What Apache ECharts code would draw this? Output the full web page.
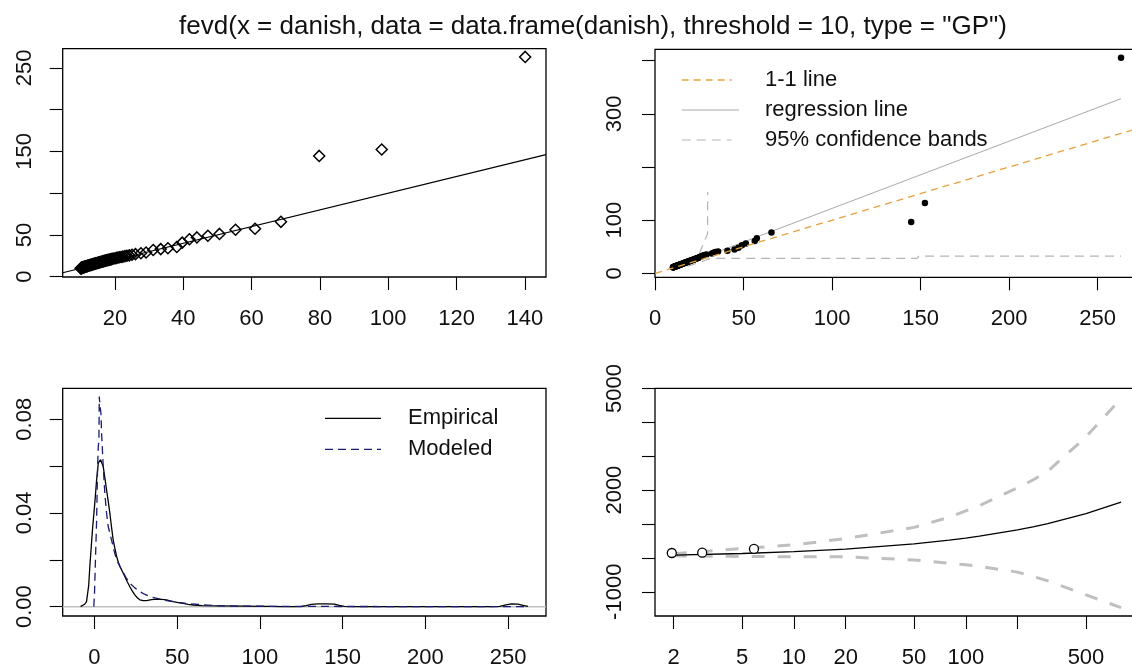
<!DOCTYPE html>
<html>
<head>
<meta charset="utf-8">
<title>fevd danish GP diagnostics</title>
<script src="https://cdn.jsdelivr.net/npm/echarts@6/dist/echarts.min.js"></script>
<style>
  html, body { margin: 0; padding: 0; background: #fff; }
  #main { width: 1132px; height: 670px; }
</style>
</head>
<body>
<div id="main"></div>
<script>
var titleText = 'fevd(x = danish, data = data.frame(danish), threshold = 10, type = "GP")';

// sorted exceedances of danish over 10 (largest first)
var empQ = [263.25, 152.41, 144.66, 65.71, 57.41, 56.23, 51.2, 49.0, 47.0, 44.8, 40.8, 35.5, 34.0, 33.0, 32.0, 29.0, 28.0,
  27.0, 26.2, 25.5, 25.0, 24.6, 24.0, 23.6, 23.2, 22.9, 22.5, 22.1, 21.8, 21.4, 21.0, 20.7, 20.4, 20.1, 19.8, 19.5, 19.2,
  18.9, 18.6, 18.3, 18.0, 17.8, 17.5, 17.3, 17.0, 16.8, 16.6, 16.3, 16.1, 15.9, 15.7, 15.5, 15.3, 15.1, 14.9, 14.7, 14.5,
  14.3, 14.1, 13.9, 13.8, 13.6, 13.4, 13.3, 13.1, 12.9, 12.8, 12.6, 12.5, 12.3, 12.2, 12.0, 11.9, 11.8, 11.6, 11.5, 11.4,
  11.3, 11.1, 11.0, 10.9, 10.8, 10.7, 10.6, 10.5, 10.4, 10.3, 10.2, 10.1, 10.0];
// model quantiles (top left qq plot, x)
var modelQ = [140.1, 98.1, 79.8, 68.6, 61.0, 55.3, 50.6, 47.2, 44.0, 41.8, 39.7, 38.1, 35.5, 33.4, 31.2, 29.1, 27.6,
  26.0, 25.0, 24.2, 23.5, 22.9, 22.3, 21.8, 21.3, 20.9, 20.5, 20.1, 19.7, 19.3, 19.0, 18.7, 18.4, 18.1, 17.8, 17.5, 17.2,
  17.0, 16.7, 16.5, 16.2, 16.0, 15.8, 15.6, 15.4, 15.2, 15.0, 14.8, 14.6, 14.4, 14.2, 14.1, 13.9, 13.7, 13.6, 13.4, 13.3,
  13.1, 13.0, 12.8, 12.7, 12.5, 12.4, 12.3, 12.1, 12.0, 11.9, 11.8, 11.6, 11.5, 11.4, 11.3, 11.2, 11.1, 11.0, 10.9, 10.8,
  10.7, 10.6, 10.55, 10.5, 10.4, 10.35, 10.3, 10.25, 10.2, 10.15, 10.1, 10.05, 10.0];
// quantiles of data simulated from the fit (top right, y)
var simQ = [405.5, 132.5, 96.5, 77.0, 66.0, 61.0, 56.0, 53.0, 48.0, 45.0, 42.5, 41.0, 40.0, 38.5, 37.5, 35.5, 34.5,
  33.5, 32.0, 31.0, 30.2, 29.6, 29.0, 28.4, 27.9, 27.4, 26.9, 26.4, 26.0, 25.5, 25.1, 24.7, 24.3, 23.9, 23.5, 23.1, 22.8,
  22.4, 22.1, 21.8, 21.4, 21.1, 20.8, 20.5, 20.2, 19.9, 19.6, 19.3, 19.0, 18.8, 18.5, 18.2, 18.0, 17.7, 17.5, 17.2, 17.0,
  16.7, 16.5, 16.2, 16.0, 15.8, 15.6, 15.4, 15.2, 15.0, 14.8, 14.6, 14.4, 14.2, 14.0, 13.8, 13.7, 13.5, 13.3, 13.2, 13.0,
  12.9, 12.7, 12.6, 12.4, 12.3, 12.2, 12.0, 11.9, 11.8, 11.6, 11.5, 11.4, 11.2];

var regX = [10, 263.25], regY = [8.4, 328.5];
var bandUpX = [10, 20, 24.5, 29.6, 29.6], bandUpY = [13, 25, 34, 75, 153];
var bandLoX = [10, 20, 28, 31, 148, 149, 263.25], bandLoY = [7, 15, 24, 28, 28, 32.5, 32.5];

// density of excesses (bottom left)
var empDensX = [-8.4, -7.8, -6, -4.8, -3.5, -2.8, -1.2, 0.2, 1.3, 2.3, 3.7, 5.3, 6.3, 7.3, 8.3, 9.3, 10.3, 11.3, 12.3, 13.4,
  14.4, 15.4, 16.9, 18.4, 19.9, 21.4, 22.9, 24.4, 25.9, 27.4, 29.5, 31.5, 34.5, 37.5, 40.5, 43.6, 45.6, 47.6, 50.6, 53.6,
  56.6, 59.7, 65, 75, 90, 105, 115, 125, 128, 131, 135, 140, 145, 148, 151, 160, 200, 240, 245, 248, 252, 256, 259, 262];
var empDensY = [0, 0.0002, 0.001, 0.0021, 0.009, 0.0171, 0.0328, 0.0442, 0.0541, 0.0613, 0.0627, 0.0598, 0.055, 0.0499,
  0.045, 0.0399, 0.034, 0.0285, 0.025, 0.0214, 0.019, 0.0171, 0.015, 0.0128, 0.0105, 0.0085, 0.0066, 0.005, 0.0038, 0.0029,
  0.0026, 0.0026, 0.0030, 0.0032, 0.0031, 0.0029, 0.0025, 0.0021, 0.0017, 0.0014, 0.001, 0.0007, 0.0004, 0.0003, 0.0002,
  0.0001, 0.00003, 0.00005, 0.0004, 0.0010, 0.0012, 0.0012, 0.0011, 0.0005, 0.0001, 0, 0, 0, 0.0001, 0.0006, 0.0012,
  0.0011, 0.0005, 0.0001];
var modDensX = [-0.4, 0, 0.6, 1.3, 1.9, 2.3, 2.7, 2.9, 3.3, 3.9, 4.3, 5.3, 6.3, 7.3, 8.3, 10.3, 11.8, 13.4, 16.4, 19,
  21.4, 24.4, 27.4, 30.5, 33.5, 38.5, 43.6, 50.6, 57.7, 65, 73.8, 90, 120, 160, 200, 262];
var modDensY = [0, 0.005, 0.02, 0.037, 0.06, 0.068, 0.0713, 0.0897, 0.086, 0.0826, 0.0741, 0.0598, 0.048, 0.04, 0.0342,
  0.0285, 0.024, 0.02, 0.0157, 0.0125, 0.01, 0.008, 0.0064, 0.0052, 0.0043, 0.0034, 0.0026, 0.0018, 0.0012, 0.0008,
  0.0004, 0.0002, 0.0001, 0.00005, 0.00003, 0.00002];

// return levels (bottom right)
var rPeriods = [2, 5, 10, 20, 50, 80, 100, 120, 200, 250, 300, 500, 800];
var rLevels = [80, 129, 183, 260, 412, 522, 584, 640, 825, 923, 1011, 1304, 1648];
var rUpper = [120, 275, 385, 570, 900, 1200, 1390, 1540, 2070, 2320, 2560, 3570, 4700];
var rLower = [60, 40, 35, 30, -60, -160, -200, -250, -420, -560, -680, -1090, -1470];
var rEmpT = [1.95, 2.93, 5.86], rEmpY = [144.66, 152.41, 263.25];

// ticks and labels
var qqXTicks = [20, 40, 60, 80, 100, 120, 140], qqYTicks = [0, 50, 100, 150, 200, 250], qqYLabels = [0, 50, 150, 250];
var qq2XTicks = [0, 50, 100, 150, 200, 250], qq2YTicks = [0, 100, 200, 300, 400], qq2YLabels = [0, 100, 300];
var densXTicks = [0, 50, 100, 150, 200, 250], densYTicks = [0, 0.02, 0.04, 0.06, 0.08], densYLabels = [0, 0.04, 0.08];
var rlXTicks = [2, 5, 10, 20, 50, 100, 200, 500], rlXLabels = [2, 5, 10, 20, 50, 100, 500];
var rlYTicks = [-1000, 0, 1000, 2000, 3000, 4000, 5000], rlYLabels = [-1000, 2000, 5000];

var FONT = '"Liberation Sans", Arial, Helvetica, sans-serif';

function pairs(xs, ys) {
    return xs.map(function(x, i) { return [x, ys[i]]; });
}

function plain(v) { return String(v); }

function axis(dim, idx, type, min, max, ticks, labels, margin, fmt) {
    return {
        gridIndex: idx,
        type: type,
        min: min,
        max: max,
        axisLine: { show: false, onZero: false },
        splitLine: { show: false },
        axisTick: { show: true, length: 13, customValues: ticks, lineStyle: { color: '#000', width: 1.1 } },
        axisLabel: {
            customValues: labels,
            margin: margin,
            rotate: dim == 'y' ? 90 : 0,
            color: '#111',
            fontSize: 22,
            fontFamily: FONT,
            formatter: fmt || plain
        }
    };
}

function line(ax, data, color, width, dash, z) {
    return {
        type: 'line', xAxisIndex: ax, yAxisIndex: ax, data: data,
        symbol: 'none', silent: true, z: z || 2,
        lineStyle: { color: color, width: width, type: dash || 'solid' }
    };
}

function legendRow(x1, x2, tx, y, color, width, dash, text) {
    return [{
        type: 'line', shape: { x1: x1, y1: y, x2: x2, y2: y },
        style: { stroke: color, lineWidth: width, lineDash: dash || null }
    }, {
        type: 'text', x: tx, y: y,
        style: { text: text, fill: '#111', fontSize: 22, fontFamily: FONT, verticalAlign: 'middle' }
    }];
}

var gridBox = { show: true, borderColor: '#000', borderWidth: 1.3, backgroundColor: 'transparent', outerBoundsMode: 'none' };

var option = {
    animation: false,
    backgroundColor: '#fff',
    title: {
        text: titleText, left: 593, top: 14, padding: 0, textAlign: 'center',
        textStyle: { fontSize: 26, fontWeight: 'normal', color: '#111', fontFamily: FONT }
    },
    grid: [
        Object.assign({ left: 62.7, top: 48.7, width: 483.3, height: 228.3 }, gridBox),
        Object.assign({ left: 655, top: 49.3, width: 484, height: 228 }, gridBox),
        Object.assign({ left: 62.7, top: 388.3, width: 483.3, height: 227.7 }, gridBox),
        Object.assign({ left: 655, top: 388.3, width: 484, height: 227.7 }, gridBox)
    ],
    xAxis: [
        axis('x', 0, 'value', 4.7, 146.2, qqXTicks, qqXTicks, 31),
        axis('x', 1, 'value', -0.13, 273.4, qq2XTicks, qq2XTicks, 31),
        axis('x', 2, 'value', -19.2, 272.9, densXTicks, densXTicks, 31),
        axis('x', 3, 'log', 1.557, 1017, rlXTicks, rlXLabels, 31, function(v) { return String(Math.round(v)); })
    ],
    yAxis: [
        axis('y', 0, 'value', -0.4, 273.1, qqYTicks, qqYLabels, 27),
        axis('y', 1, 'value', -7.5, 421.4, qq2YTicks, qq2YLabels, 29),
        axis('y', 2, 'value', -0.004, 0.0932, densYTicks, densYLabels, 27, function(v) { return v.toFixed(2); }),
        axis('y', 3, 'value', -1715, 5005, rlYTicks, rlYLabels, 29)
    ],
    series: [
        // qq plot
        line(0, [[4.7, 4.7], [146.2, 146.2]], '#000', 1.2),
        {
            type: 'scatter', xAxisIndex: 0, yAxisIndex: 0, data: pairs(modelQ, empQ),
            symbol: 'diamond', symbolSize: 11, silent: true, z: 3,
            itemStyle: { color: 'rgba(0,0,0,0)', borderColor: '#000', borderWidth: 1.5, opacity: 1 }
        },
        // qq plot with simulated data
        {
            type: 'scatter', xAxisIndex: 1, yAxisIndex: 1, data: pairs(empQ, simQ),
            symbol: 'circle', symbolSize: 6.5, silent: true, z: 2,
            itemStyle: { color: '#000', opacity: 1 }
        },
        line(1, [[0, 0], [300, 300]], '#e5a23a', 1.3, [7, 5], 3),
        line(1, pairs(regX, regY), '#a9a9a9', 1),
        line(1, pairs(bandUpX, bandUpY), '#b5b5b5', 1.2, [9, 6]),
        line(1, pairs(bandLoX, bandLoY), '#b5b5b5', 1.2, [9, 6]),
        // density
        line(2, [[-19.2, 0], [272.9, 0]], '#bebebe', 1.5, null, 1),
        line(2, pairs(empDensX, empDensY), '#000', 1.3),
        line(2, pairs(modDensX, modDensY), '#1b1b72', 1.3, [8, 5], 3),
        // return levels
        line(3, pairs(rPeriods, rUpper), '#bfbfbf', 3, [13, 13]),
        line(3, pairs(rPeriods, rLower), '#bfbfbf', 3, [13, 13]),
        line(3, pairs(rPeriods, rLevels), '#000', 1.3, null, 3),
        {
            type: 'scatter', xAxisIndex: 3, yAxisIndex: 3, data: pairs(rEmpT, rEmpY),
            symbol: 'circle', symbolSize: 9, silent: true, z: 4,
            itemStyle: { color: '#fff', borderColor: '#000', borderWidth: 1.3, opacity: 1 }
        }
    ],
    graphic: [].concat(
        legendRow(681.7, 731.7, 765, 80, '#e5a23a', 1.3, [7, 5], '1-1 line'),
        legendRow(681.7, 739, 765, 110, '#a9a9a9', 1, null, 'regression line'),
        legendRow(681.7, 731.7, 765, 140, '#b5b5b5', 1.2, [9, 6], '95% confidence bands'),
        legendRow(325, 381, 408, 418.3, '#000', 1.3, null, 'Empirical'),
        legendRow(325, 381, 408, 449.3, '#1b1b72', 1.3, [8, 5], 'Modeled')
    )
};

var chart = echarts.init(document.getElementById('main'), null, { renderer: 'canvas' });
chart.setOption(option);
</script>
</body>
</html>
